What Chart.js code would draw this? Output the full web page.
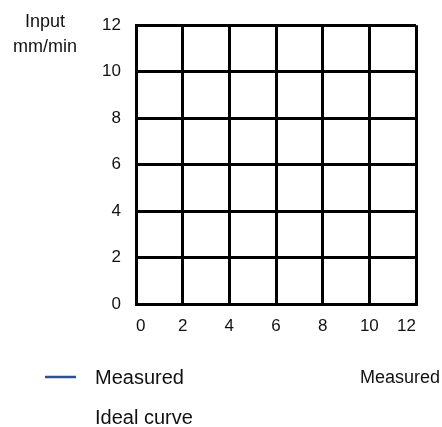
<!DOCTYPE html>
<html>
<head>
<meta charset="utf-8">
<script src="https://cdn.jsdelivr.net/npm/chart.js@4/dist/chart.umd.min.js"></script>
<style>
  html, body { margin: 0; padding: 0; background: #fff; }
  #wrap { width: 442px; height: 427px; position: relative; }
</style>
</head>
<body>
<div id="wrap"><canvas id="c" width="442" height="427"></canvas></div>
<script>
// Data
const seriesNames = ["Measured", "Ideal curve"];
const seriesColors = ["#2c5090", "rgba(0,0,0,0)"];
const measuredValues = [];   // no points visible in the reference
const idealValues = [];      // no points visible in the reference
const xTicks = [0, 2, 4, 6, 8, 10, 12];
const yTicks = [0, 2, 4, 6, 8, 10, 12];
const xTitle = "Measured";
const yTitleLines = ["Input", "mm/min"];

const FONT = "'Liberation Sans', Arial, Helvetica, sans-serif";

const customText = {
  id: 'customText',
  afterDraw(chart) {
    const ctx = chart.ctx;
    ctx.save();
    ctx.fillStyle = '#111';
    ctx.font = '18px ' + FONT;
    ctx.textBaseline = 'middle';
    // Y title (horizontal, top-left)
    ctx.textAlign = 'center';
    ctx.fillText(yTitleLines[0], 45, 22);
    ctx.fillText(yTitleLines[1], 45, 47);
    // X title (bottom-right)
    ctx.textAlign = 'right';
    ctx.fillText(xTitle, 440, 378);
    // Legend (vertical, bottom-left)
    ctx.font = '20px ' + FONT;
    const items = chart.data.datasets.map((d) => ({ text: d.label, color: d.borderColor }));
    items.forEach((it, i) => {
      const y = 378 + i * 40;
      ctx.strokeStyle = it.color;
      ctx.lineWidth = 2.5;
      ctx.beginPath();
      ctx.moveTo(45, y - 1);
      ctx.lineTo(76, y - 1);
      ctx.stroke();
      ctx.fillStyle = '#111';
      ctx.textAlign = 'left';
      ctx.fillText(it.text, 95, y);
    });
    ctx.restore();
  }
};

new Chart(document.getElementById('c'), {
  type: 'line',
  data: {
    datasets: [
      { label: seriesNames[0], data: measuredValues, borderColor: seriesColors[0], backgroundColor: seriesColors[0], borderWidth: 2, pointRadius: 0 },
      { label: seriesNames[1], data: idealValues, borderColor: seriesColors[1], backgroundColor: seriesColors[1], borderWidth: 2, pointRadius: 0 }
    ]
  },
  options: {
    responsive: false,
    animation: false,
    devicePixelRatio: 1,
    layout: { padding: { top: 24, right: 26, left: 0, bottom: 0 } },
    plugins: { legend: { display: false }, tooltip: { enabled: false }, title: { display: false } },
    scales: {
      x: {
        type: 'linear', min: 0, max: 12,
        afterBuildTicks(s) { s.ticks = xTicks.map(v => ({ value: v })); },
        afterFit(s) { s.height = 123; },
        ticks: { align: 'inner', padding: 12, color: '#111', font: { size: 17, family: FONT } },
        grid: { color: '#000', lineWidth: 3, drawTicks: false },
        border: { display: true, color: '#000', width: 3 }
      },
      y: {
        type: 'linear', min: 0, max: 12,
        afterBuildTicks(s) { s.ticks = yTicks.map(v => ({ value: v })); },
        afterFit(s) { s.width = 136; },
        ticks: { padding: 15, color: '#111', font: { size: 17, family: FONT } },
        grid: { color: '#000', lineWidth: 3, drawTicks: false },
        border: { display: true, color: '#000', width: 3 }
      }
    }
  },
  plugins: [customText]
});
</script>
</body>
</html>
